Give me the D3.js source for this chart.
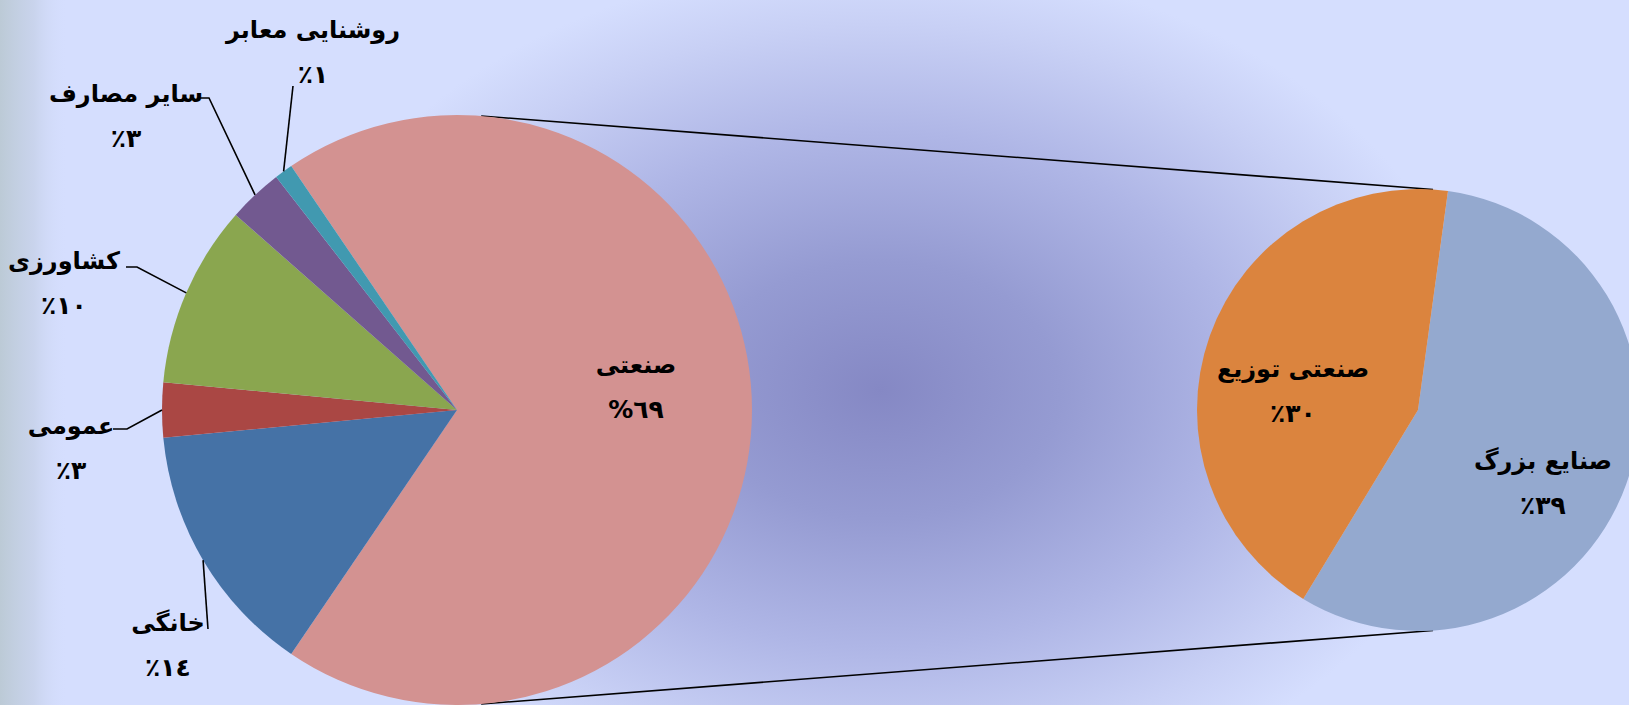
<!DOCTYPE html>
<html>
<head>
<meta charset="utf-8">
<script src="https://cdn.jsdelivr.net/npm/d3@7"></script>
<style>
  html, body { margin: 0; padding: 0; background: #d5defe; overflow: hidden; }
  svg { display: block; }
  text { font-family: "DejaVu Sans", sans-serif; font-weight: bold; fill: #000; }
</style>
</head>
<body>
<div id="chart"></div>
<script>
// main pie: categories and shares (%)
const mainNames = ['صنعتی', 'خانگی', 'عمومی', 'کشاورزی', 'سایر مصارف', 'روشنایی معابر'];
const mainValues = [69, 14, 3, 10, 3, 1];
const mainPct = ['%٦٩', '٪١٤', '٪٣', '٪١٠', '٪٣', '٪١'];

// secondary pie: split of the industrial slice
const subNames = ['صنایع بزرگ', 'صنعتی توزیع'];
const subValues = [39, 30];
const subPct = ['٪٣٩', '٪٣٠'];

const mainColors = ['#d39291', '#4572a6', '#aa4744', '#8aa64f', '#725990', '#4199b0'];
const subColors = ['#94a9cf', '#db843e'];

const width = 1629, height = 705;
const big = { cx: 457, cy: 410, r: 295 };
const small = { cx: 1418, cy: 410, r: 221 };

// label block centres (name line), placed like the original
const mainLabelPos = [[636, 366], [168, 624], [71, 427], [64, 262], [126, 95], [313, 31]];
const subLabelPos = [[1543, 462], [1293, 370]];
// leader lines: elbow and end point (null = no leader)
const leaders = [null, [[208, 629], [208, 629]], [[127, 429], [113, 429]],
  [[137, 267], [126, 267]], [[209, 98], [199, 98]], [[293, 86], [293, 86]]];

const svg = d3.select('#chart').append('svg')
  .attr('width', width).attr('height', height);

const defs = svg.append('defs');
const lg = defs.append('linearGradient').attr('id', 'leftShade')
  .attr('x1', 0).attr('x2', 1).attr('y1', 0).attr('y2', 0);
lg.append('stop').attr('offset', 0).attr('stop-color', '#bccad6').attr('stop-opacity', 1);
lg.append('stop').attr('offset', 0.5).attr('stop-color', '#c6d1e8').attr('stop-opacity', 0.8);
lg.append('stop').attr('offset', 1).attr('stop-color', '#d5defe').attr('stop-opacity', 0);

const rg = defs.append('radialGradient').attr('id', 'glow')
  .attr('gradientUnits', 'userSpaceOnUse')
  .attr('cx', 880).attr('cy', 390).attr('r', 1)
  .attr('gradientTransform', 'translate(880,390) scale(600,430) translate(-880,-390)');
[[0, '#8588c4'], [0.3, '#959bd2'], [0.6, '#afb6e6'], [0.85, '#c8d0f5'], [1, '#d5defe']]
  .forEach(([o, c]) => rg.append('stop').attr('offset', o).attr('stop-color', c));

svg.append('rect').attr('width', width).attr('height', height).attr('fill', '#d5defe');
svg.append('rect').attr('width', width).attr('height', height).attr('fill', 'url(#glow)');
svg.append('rect').attr('width', 68).attr('height', height).attr('fill', 'url(#leftShade)');

const toRad = (deg) => (deg * Math.PI) / 180;

// main pie: the industrial slice is centred on the right side
const mainSpan = (mainValues[0] / d3.sum(mainValues)) * 2 * Math.PI;
const mainPie = d3.pie().sort(null).value((d) => d)
  .startAngle(Math.PI / 2 - mainSpan / 2)
  .endAngle(Math.PI / 2 - mainSpan / 2 + 2 * Math.PI);
const mainArcs = mainPie(mainValues);
const arcBig = d3.arc().innerRadius(0).outerRadius(big.r);

const subPie = d3.pie().sort(null).value((d) => d)
  .startAngle(toRad(7.8)).endAngle(toRad(7.8) + 2 * Math.PI);
const subArcs = subPie(subValues);
const arcSmall = d3.arc().innerRadius(0).outerRadius(small.r);

// connector lines between the pies
const polar = (c, a) => [c.cx + c.r * Math.sin(a), c.cy - c.r * Math.cos(a)];
const bigA = toRad(4.7), smallA = toRad(3.9);
const connectors = [
  [polar(big, bigA), polar(small, smallA)],
  [polar(big, Math.PI - bigA), polar(small, Math.PI - smallA)],
];
svg.selectAll('line.conn').data(connectors).join('line')
  .attr('class', 'conn')
  .attr('x1', (d) => d[0][0]).attr('y1', (d) => d[0][1])
  .attr('x2', (d) => d[1][0]).attr('y2', (d) => d[1][1])
  .attr('stroke', '#000').attr('stroke-width', 1.6);

svg.append('g').attr('transform', `translate(${big.cx},${big.cy})`)
  .selectAll('path').data(mainArcs).join('path')
  .attr('d', arcBig)
  .attr('fill', (d, i) => mainColors[i]);

svg.append('g').attr('transform', `translate(${small.cx},${small.cy})`)
  .selectAll('path').data(subArcs).join('path')
  .attr('d', arcSmall)
  .attr('fill', (d, i) => subColors[i]);

// leader lines from the slice edge at its middle angle
const leaderData = mainArcs.map((d, i) => ({ d, l: leaders[i] })).filter((o) => o.l);
svg.selectAll('polyline.leader').data(leaderData).join('polyline')
  .attr('class', 'leader')
  .attr('points', (o) => {
    const p = polar(big, (o.d.startAngle + o.d.endAngle) / 2);
    return [p, o.l[0], o.l[1]].map((q) => q.join(',')).join(' ');
  })
  .attr('fill', 'none').attr('stroke', '#000').attr('stroke-width', 1.6);

function drawLabels(names, pcts, pos, size) {
  const g = svg.append('g');
  names.forEach((n, i) => {
    g.append('text').attr('x', pos[i][0]).attr('y', pos[i][1])
      .attr('text-anchor', 'middle').attr('dominant-baseline', 'middle')
      .style('font-size', size + 'px').text(n);
    g.append('text').attr('x', pos[i][0]).attr('y', pos[i][1] + 45)
      .attr('text-anchor', 'middle').attr('dominant-baseline', 'middle')
      .style('font-size', (size + 1) + 'px').text(pcts[i]);
  });
}
drawLabels(mainNames, mainPct, mainLabelPos, 24);
drawLabels(subNames, subPct, subLabelPos, 24);
</script>
</body>
</html>
